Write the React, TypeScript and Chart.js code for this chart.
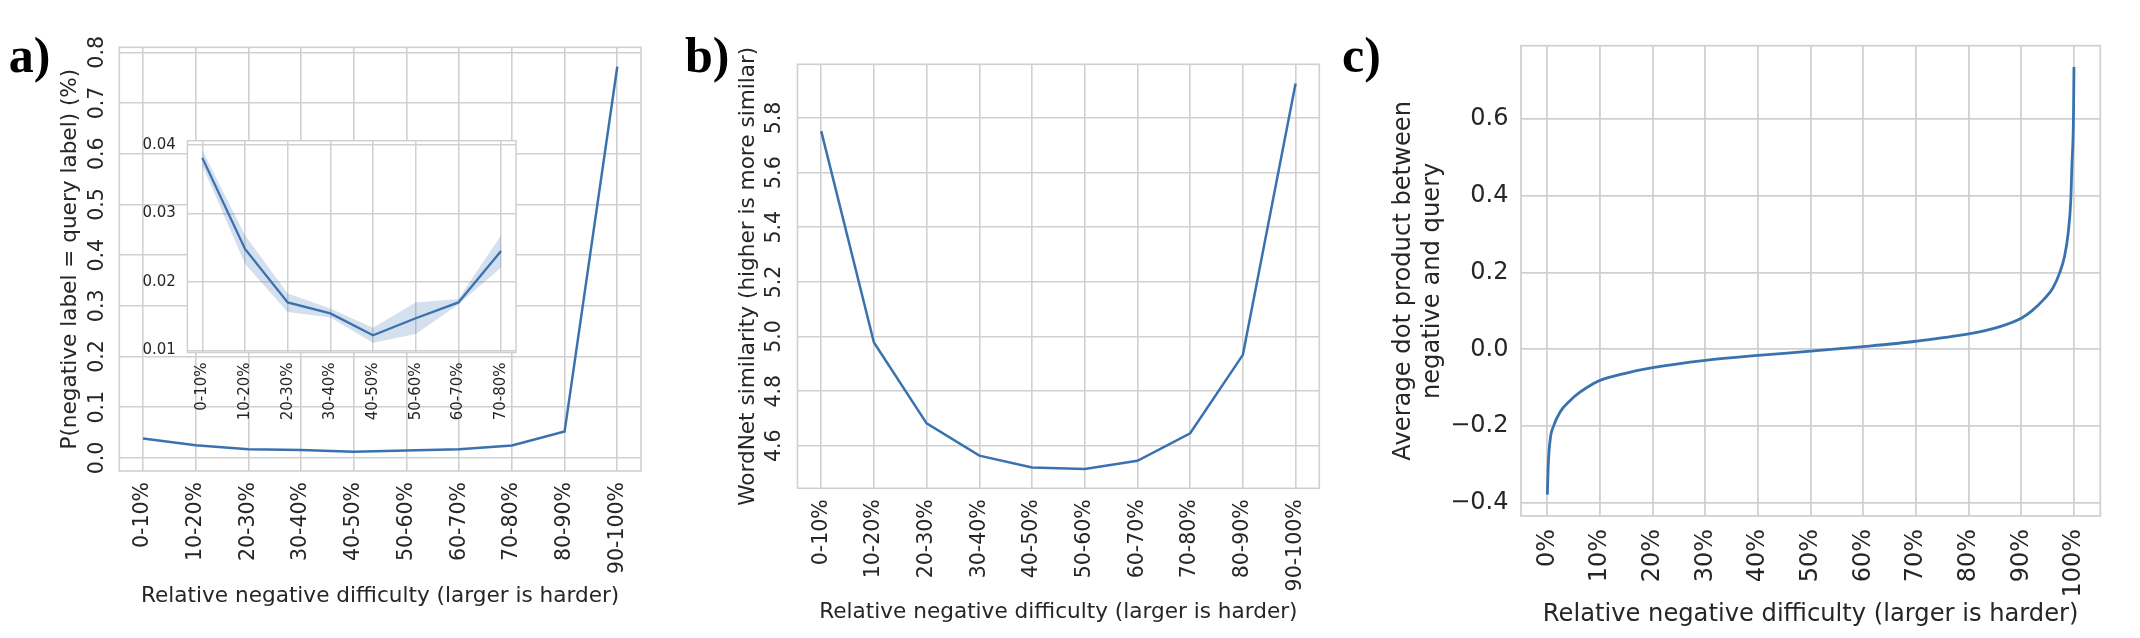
import React, { useEffect, useRef } from 'react';
import { Chart, registerables } from 'chart.js';

Chart.register(...registerables);

// ---------------- data ----------------
const bins = ['0-10%', '10-20%', '20-30%', '30-40%', '40-50%', '50-60%', '60-70%', '70-80%', '80-90%', '90-100%'];
const insetBins = ['0-10%', '10-20%', '20-30%', '30-40%', '40-50%', '50-60%', '60-70%', '70-80%'];

const probValues = [0.0381, 0.0248, 0.017, 0.0154, 0.0122, 0.0147, 0.017, 0.0245, 0.052, 0.772];
const insetValues = [0.0381, 0.0248, 0.017, 0.0154, 0.0122, 0.0147, 0.017, 0.0245];
const insetUpper = [0.0392, 0.0268, 0.0183, 0.0161, 0.0133, 0.017, 0.0175, 0.0268];
const insetLower = [0.037, 0.0226, 0.0156, 0.0148, 0.0111, 0.0124, 0.0167, 0.0221];

const wordnetValues = [5.752, 4.978, 4.682, 4.564, 4.521, 4.515, 4.545, 4.646, 4.933, 5.926];

const dotPercent = [0, 0.2, 0.6, 1.1, 2.4, 4.3, 6.2, 8.7, 10, 15, 20, 30, 40, 50, 60, 70, 80, 85, 90, 92, 94.4, 96, 97.3, 98.2, 98.9, 99.4, 99.6, 99.9, 100];
const dotValues = [-0.379, -0.295, -0.229, -0.203, -0.164, -0.134, -0.112, -0.09, -0.081, -0.062, -0.048, -0.029, -0.016, -0.005, 0.007, 0.021, 0.04, 0.055, 0.081, 0.1, 0.132, 0.16, 0.2, 0.242, 0.303, 0.39, 0.476, 0.6, 0.736];

const probTicks = [0, 0.1, 0.2, 0.3, 0.4, 0.5, 0.6, 0.7, 0.8];
const insetTicks = [0.01, 0.02, 0.03, 0.04];
const wordnetTicks = [4.6, 4.8, 5.0, 5.2, 5.4, 5.6, 5.8];
const dotYTicks = [-0.4, -0.2, 0, 0.2, 0.4, 0.6];
const dotXTicks = [0, 10, 20, 30, 40, 50, 60, 70, 80, 90, 100];

// ---------------- style ----------------
const FONT = "'DejaVu Sans', sans-serif";
const TEXT = '#262626';
const GRID = '#d0d0d0';
const LINE = '#3a72b0';
const BAND = 'rgba(58,114,176,0.22)';

function padRange(values: number[]) {
  const lo = Math.min(...values);
  const hi = Math.max(...values);
  const m = (hi - lo) * 0.05;
  return { min: lo - m, max: hi + m };
}

function fixSize(size: number, horizontal: boolean) {
  return (scale: any) => {
    if (horizontal) scale.height = size;
    else scale.width = size;
    scale.paddingLeft = 0;
    scale.paddingRight = 0;
    scale.paddingTop = 0;
    scale.paddingBottom = 0;
  };
}

function setTicks(values: number[]) {
  return (scale: any) => {
    scale.ticks = values.map((v) => ({ value: v }));
  };
}

function framePlugin(lineWidth: number, whiteFill: boolean) {
  return {
    id: 'frame',
    beforeDraw(chart: any) {
      if (!whiteFill) return;
      const { ctx, chartArea: a } = chart;
      ctx.save();
      ctx.fillStyle = '#ffffff';
      ctx.fillRect(a.left, a.top, a.right - a.left, a.bottom - a.top);
      ctx.restore();
    },
    beforeDatasetsDraw(chart: any) {
      const { ctx, chartArea: a } = chart;
      ctx.save();
      ctx.strokeStyle = GRID;
      ctx.lineWidth = lineWidth;
      ctx.strokeRect(a.left, a.top, a.right - a.left, a.bottom - a.top);
      ctx.restore();
    },
  };
}

const gridOpts = (w: number) => ({ color: GRID, lineWidth: w, drawTicks: false });

function baseOptions(padding: any) {
  return {
    animation: false,
    responsive: false,
    events: [],
    layout: { padding },
    plugins: { legend: { display: false }, tooltip: { enabled: false }, title: { display: false } },
  };
}

// ---------------- panel configs ----------------
function configA(): any {
  const yr = padRange(probValues);
  return {
    type: 'line',
    data: {
      datasets: [
        {
          data: probValues.map((y, i) => ({ x: i, y })),
          borderColor: LINE,
          borderWidth: 2.5,
          pointRadius: 0,
          fill: false,
          tension: 0,
        },
      ],
    },
    options: {
      ...baseOptions({ left: 0, top: 47.3, right: 39, bottom: 0 }),
      scales: {
        x: {
          type: 'linear',
          min: -0.45,
          max: bins.length - 1 + 0.45,
          bounds: 'data',
          afterBuildTicks: setTicks(bins.map((_, i) => i)),
          afterFit: fixSize(167, true),
          grid: gridOpts(1.6),
          border: { display: false },
          ticks: {
            autoSkip: false,
            minRotation: 90,
            maxRotation: 90,
            padding: 11,
            color: TEXT,
            font: { family: FONT, size: 20.5 },
            callback: (v: number) => bins[v],
          },
          title: {
            display: true,
            text: 'Relative negative difficulty (larger is harder)',
            color: TEXT,
            font: { family: FONT, size: 21.6 },
            padding: { top: 0, bottom: 29 },
          },
        },
        y: {
          type: 'linear',
          min: yr.min,
          max: yr.max,
          bounds: 'data',
          afterBuildTicks: setTicks(probTicks),
          afterFit: fixSize(119.3, false),
          grid: gridOpts(1.6),
          border: { display: false },
          ticks: {
            minRotation: 90,
            maxRotation: 90,
            crossAlign: 'center',
            padding: 5.5,
            color: TEXT,
            font: { family: FONT, size: 20.5 },
            callback: (v: number) => v.toFixed(1),
          },
          title: {
            display: true,
            text: 'P(negative label = query label) (%)',
            color: TEXT,
            font: { family: FONT, size: 21.6 },
            padding: { top: 57, bottom: 0 },
          },
        },
      },
    },
    plugins: [framePlugin(1.6, false)],
  };
}

function configInset(): any {
  const yr = padRange([...insetLower, ...insetUpper]);
  return {
    type: 'line',
    data: {
      datasets: [
        {
          data: insetUpper.map((y, i) => ({ x: i, y })),
          borderWidth: 0,
          borderColor: 'rgba(0,0,0,0)',
          pointRadius: 0,
          fill: false,
          tension: 0,
        },
        {
          data: insetLower.map((y, i) => ({ x: i, y })),
          borderWidth: 0,
          borderColor: 'rgba(0,0,0,0)',
          backgroundColor: BAND,
          pointRadius: 0,
          fill: '-1',
          tension: 0,
        },
        {
          data: insetValues.map((y, i) => ({ x: i, y })),
          borderColor: LINE,
          borderWidth: 2.3,
          pointRadius: 0,
          fill: false,
          tension: 0,
        },
      ],
    },
    options: {
      ...baseOptions({ left: 0, top: 40.7, right: 24, bottom: 0 }),
      scales: {
        x: {
          type: 'linear',
          min: -0.35,
          max: insetBins.length - 1 + 0.35,
          bounds: 'data',
          afterBuildTicks: setTicks(insetBins.map((_, i) => i)),
          afterFit: fixSize(87.5, true),
          grid: gridOpts(1.5),
          border: { display: false },
          ticks: {
            autoSkip: false,
            minRotation: 90,
            maxRotation: 90,
            padding: 10,
            color: TEXT,
            font: { family: FONT, size: 15 },
            callback: (v: number) => insetBins[v],
          },
        },
        y: {
          type: 'linear',
          min: yr.min,
          max: yr.max,
          bounds: 'data',
          afterBuildTicks: setTicks(insetTicks),
          afterFit: fixSize(67.4, false),
          grid: gridOpts(1.5),
          border: { display: false },
          ticks: {
            padding: 11.5,
            color: TEXT,
            font: { family: FONT, size: 15 },
            callback: (v: number) => v.toFixed(2),
          },
        },
      },
    },
    plugins: [framePlugin(1.5, true)],
  };
}

function configB(): any {
  const yr = padRange(wordnetValues);
  return {
    type: 'line',
    data: {
      datasets: [
        {
          data: wordnetValues.map((y, i) => ({ x: i, y })),
          borderColor: LINE,
          borderWidth: 2.5,
          pointRadius: 0,
          fill: false,
          tension: 0,
        },
      ],
    },
    options: {
      ...baseOptions({ left: 0, top: 64.3, right: 40.7, bottom: 0 }),
      scales: {
        x: {
          type: 'linear',
          min: -0.45,
          max: bins.length - 1 + 0.45,
          bounds: 'data',
          afterBuildTicks: setTicks(bins.map((_, i) => i)),
          afterFit: fixSize(149.7, true),
          grid: gridOpts(1.6),
          border: { display: false },
          ticks: {
            autoSkip: false,
            minRotation: 90,
            maxRotation: 90,
            padding: 11,
            color: TEXT,
            font: { family: FONT, size: 20.5 },
            callback: (v: number) => bins[v],
          },
          title: {
            display: true,
            text: 'Relative negative difficulty (larger is harder)',
            color: TEXT,
            font: { family: FONT, size: 21.6 },
            padding: { top: 0, bottom: 12.5 },
          },
        },
        y: {
          type: 'linear',
          min: yr.min,
          max: yr.max,
          bounds: 'data',
          afterBuildTicks: setTicks(wordnetTicks),
          afterFit: fixSize(117.5, false),
          grid: gridOpts(1.6),
          border: { display: false },
          ticks: {
            minRotation: 90,
            maxRotation: 90,
            crossAlign: 'center',
            padding: 6.2,
            color: TEXT,
            font: { family: FONT, size: 20.5 },
            callback: (v: number) => v.toFixed(1),
          },
          title: {
            display: true,
            text: 'WordNet similarity (higher is more similar)',
            color: TEXT,
            font: { family: FONT, size: 21.6 },
            padding: { top: 55.6, bottom: 0 },
          },
        },
      },
    },
    plugins: [framePlugin(1.6, false)],
  };
}

function configC(): any {
  const yr = padRange(dotValues);
  const xr = padRange(dotPercent);
  return {
    type: 'line',
    data: {
      datasets: [
        {
          data: dotPercent.map((x, i) => ({ x, y: dotValues[i] })),
          borderColor: LINE,
          borderWidth: 2.8,
          pointRadius: 0,
          fill: false,
          cubicInterpolationMode: 'monotone',
        },
      ],
    },
    options: {
      ...baseOptions({ left: 0, top: 45.7, right: 39.7, bottom: 0 }),
      scales: {
        x: {
          type: 'linear',
          min: xr.min,
          max: xr.max,
          bounds: 'data',
          afterBuildTicks: setTicks(dotXTicks),
          afterFit: fixSize(122, true),
          grid: gridOpts(1.8),
          border: { display: false },
          ticks: {
            autoSkip: false,
            minRotation: 90,
            maxRotation: 90,
            padding: 13,
            color: TEXT,
            font: { family: FONT, size: 24 },
            callback: (v: number) => `${v}%`,
          },
          title: {
            display: true,
            text: 'Relative negative difficulty (larger is harder)',
            color: TEXT,
            font: { family: FONT, size: 24.2 },
            padding: { top: 0, bottom: 9.2 },
          },
        },
        y: {
          type: 'linear',
          min: yr.min,
          max: yr.max,
          bounds: 'data',
          afterBuildTicks: setTicks(dotYTicks),
          afterFit: fixSize(161, false),
          grid: gridOpts(1.8),
          border: { display: false },
          ticks: {
            padding: 12.5,
            color: TEXT,
            font: { family: FONT, size: 24 },
            callback: (v: number) => (v < 0 ? '\u2212' + Math.abs(v).toFixed(1) : v.toFixed(1)),
          },
          title: {
            display: true,
            text: ['Average dot product between', 'negative and query'],
            color: TEXT,
            font: { family: FONT, size: 24.2 },
            padding: { top: 29.6, bottom: 0 },
          },
        },
      },
    },
    plugins: [framePlugin(1.8, false)],
  };
}

// ---------------- components ----------------
function ChartCanvas(props: { left: number; top: number; width: number; height: number; build: () => any }) {
  const ref = useRef<HTMLCanvasElement | null>(null);
  useEffect(() => {
    if (!ref.current) return;
    const chart = new Chart(ref.current, props.build());
    return () => chart.destroy();
  }, []);
  return (
    <canvas
      ref={ref}
      width={props.width}
      height={props.height}
      style={{ position: 'absolute', left: props.left, top: props.top, width: props.width, height: props.height }}
    />
  );
}

const panelLabelStyle = (left: number): React.CSSProperties => ({
  position: 'absolute',
  left,
  top: 30,
  fontFamily: "'Liberation Serif', 'Times New Roman', serif",
  fontWeight: 'bold',
  fontSize: 50,
  lineHeight: '50px',
  color: '#000',
  whiteSpace: 'nowrap',
});

export default function App() {
  return (
    <div style={{ position: 'fixed', left: 0, top: 0, width: 2140, height: 638, background: '#fff', overflow: 'hidden' }}>
      <ChartCanvas left={0} top={0} width={680} height={638} build={configA} />
      <ChartCanvas left={120} top={100} width={420} height={340} build={configInset} />
      <ChartCanvas left={680} top={0} width={680} height={638} build={configB} />
      <ChartCanvas left={1360} top={0} width={780} height={638} build={configC} />
      <div style={panelLabelStyle(8.8)}>a)</div>
      <div style={panelLabelStyle(684.9)}>b)</div>
      <div style={panelLabelStyle(1342)}>c)</div>
    </div>
  );
}
